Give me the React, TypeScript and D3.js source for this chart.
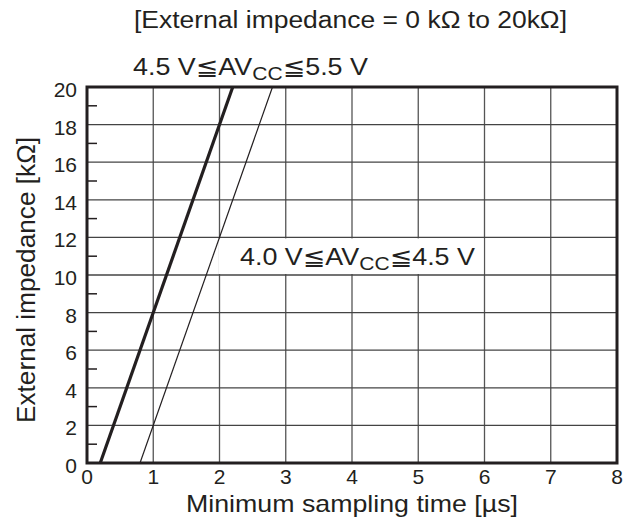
import React from "react";
import * as d3 from "d3";

const W = 632;
const H = 529;

const xTicks = [0, 1, 2, 3, 4, 5, 6, 7, 8];
const yTicks = [0, 2, 4, 6, 8, 10, 12, 14, 16, 18, 20];
const yMinor = [1, 3, 5, 7, 9, 11, 13, 15, 17, 19];

// Minimum sampling time [µs] vs external impedance [kΩ]
const highVccTime = [0.2, 2.2];
const highVccImp = [0, 20];
const lowVccTime = [0.8, 2.8];
const lowVccImp = [0, 20];

const titleText = "[External impedance = 0 kΩ to 20kΩ]";
const xTitle = "Minimum sampling time [µs]";
const yTitle = "External impedance [kΩ]";

const FONT = "'Liberation Sans', Arial, Helvetica, 'DejaVu Sans', sans-serif";
const INK = "#231f20";

export default function App() {
  const x = d3.scaleLinear().domain([0, 8]).range([87, 617]);
  const y = d3.scaleLinear().domain([0, 20]).range([463, 87]);
  const line = d3
    .line<[number, number]>()
    .x((d) => x(d[0]))
    .y((d) => y(d[1]));
  const high = highVccTime.map((t, i) => [t, highVccImp[i]] as [number, number]);
  const low = lowVccTime.map((t, i) => [t, lowVccImp[i]] as [number, number]);

  const Label = ({ lo, hi, xs, ys, len }: { lo: string; hi: string; xs: number; ys: number; len: number }) => (
    <text x={xs} y={ys} fontSize={23} fill={INK} textLength={len} lengthAdjust="spacingAndGlyphs">
      {lo + " V"}
      <tspan>{"≦"}</tspan>
      <tspan>AV</tspan>
      <tspan fontSize={18} dy={5}>CC</tspan>
      <tspan dy={-5}>{"≦"}</tspan>
      <tspan>{hi + " V"}</tspan>
    </text>
  );

  return (
    <div style={{ position: "absolute", left: 0, top: 0 }}>
      <svg width={W} height={H} style={{ display: "block", background: "#fff" }} fontFamily={FONT}>
        <rect width={W} height={H} fill="#fff" />
        {/* grid */}
        {xTicks.slice(1, -1).map((t) => (
          <line key={"gx" + t} x1={x(t)} x2={x(t)} y1={y(0)} y2={y(20)} stroke="#555" strokeWidth={1.3} />
        ))}
        {yTicks.slice(1, -1).map((t) => (
          <line key={"gy" + t} x1={x(0)} x2={x(8)} y1={y(t)} y2={y(t)} stroke="#444" strokeWidth={1.3} />
        ))}
        {/* white label background */}
        <rect x={x(2) - 1} y={y(12) + 1} width={x(6) - x(2)} height={y(10) - y(12) - 2} fill="#fff" />
        {/* minor ticks */}
        {yMinor.map((t) => (
          <line key={"my" + t} x1={x(0)} x2={x(0) + 10} y1={y(t)} y2={y(t)} stroke={INK} strokeWidth={1.5} />
        ))}
        {/* series */}
        <path d={line(high) || ""} fill="none" stroke={INK} strokeWidth={3.2} />
        <path d={line(low) || ""} fill="none" stroke={INK} strokeWidth={1.2} />
        {/* frame */}
        <rect x={x(0)} y={y(20)} width={x(8) - x(0)} height={y(0) - y(20)} fill="none" stroke={INK} strokeWidth={3} />
        {/* tick labels */}
        {yTicks.map((t) => (
          <text key={"ly" + t} x={x(0) - 10} y={y(t) + 10} fontSize={21} textAnchor="end" fill={INK}>
            {t}
          </text>
        ))}
        {xTicks.map((t) => (
          <text key={"lx" + t} x={x(t)} y={484} fontSize={21} textAnchor="middle" fill={INK}>
            {t}
          </text>
        ))}
        {/* titles */}
        <text x={134} y={28} fontSize={23} fill={INK} textLength={433} lengthAdjust="spacingAndGlyphs">
          {titleText}
        </text>
        <text x={186} y={512} fontSize={24} fill={INK} textLength={332} lengthAdjust="spacingAndGlyphs">
          {xTitle}
        </text>
        <text
          transform={`translate(35,${423}) rotate(-90)`}
          fontSize={25}
          fill={INK}
          textLength={286}
          lengthAdjust="spacingAndGlyphs"
        >
          {yTitle}
        </text>
        {/* annotations */}
        <Label lo="4.5" hi="5.5" xs={133} ys={75} len={235} />
        <Label lo="4.0" hi="4.5" xs={240} ys={265} len={235} />
      </svg>
    </div>
  );
}
